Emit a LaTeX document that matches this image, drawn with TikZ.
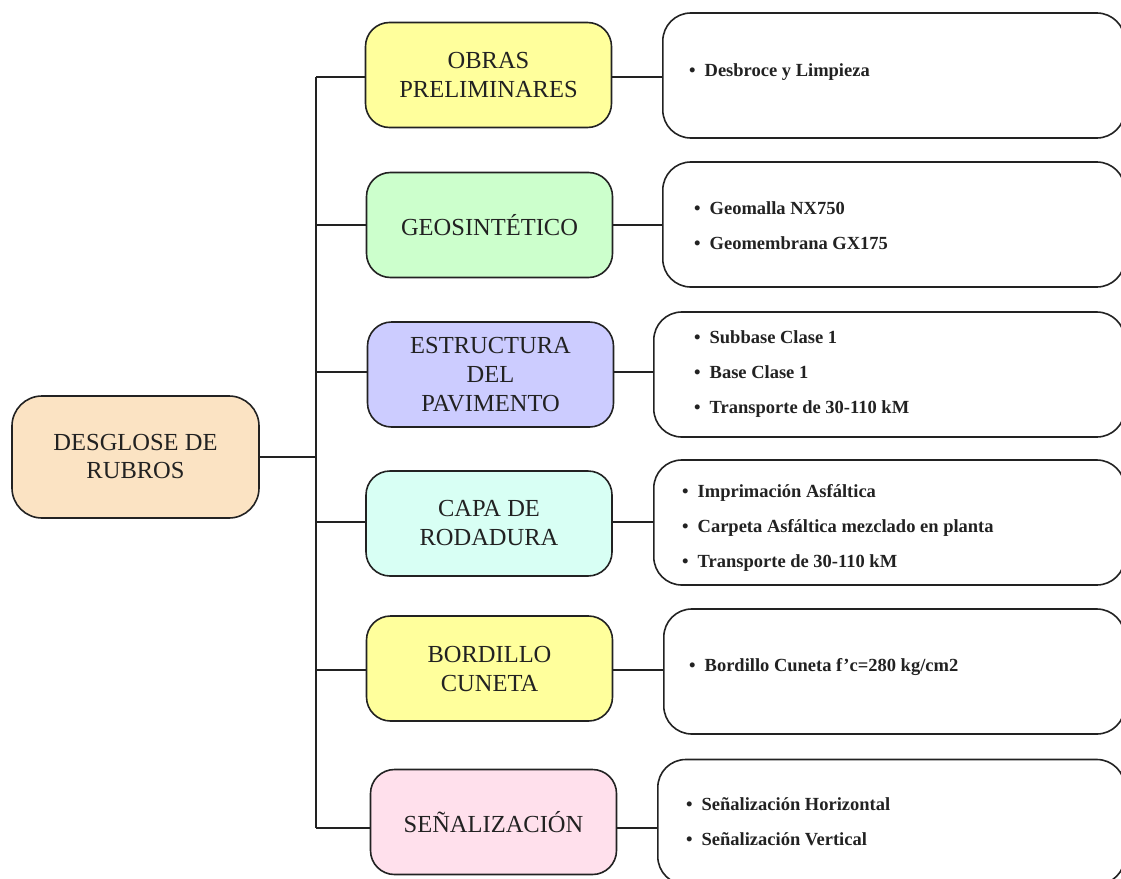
\documentclass[tikz,border=0pt]{standalone}
\usepackage{fontspec}
\setmainfont{Liberation Serif}
\definecolor{cRoot}{HTML}{FBE3C3}
\definecolor{cYel}{HTML}{FFFF9C}
\definecolor{cGreen}{HTML}{CCFFCC}
\definecolor{cLav}{HTML}{CCCCFF}
\definecolor{cCyan}{HTML}{D8FFF4}
\definecolor{cPink}{HTML}{FFE0EC}
\definecolor{ink}{HTML}{222222}
\begin{document}
\begin{tikzpicture}[x=1pt,y=-1pt,
  boxline/.style={draw=ink, line width=1.6pt},
  rootbox/.style={boxline, rounded corners=30pt, minimum width=247pt, minimum height=122pt,
    align=center, text=ink, font=\fontsize{24.5}{28}\selectfont},
  midbox/.style={boxline, rounded corners=24pt, minimum width=246pt, minimum height=105pt,
    align=center, text=ink, font=\fontsize{24.5}{29}\selectfont},
  listbox/.style={boxline, rounded corners=28pt, minimum height=125pt, anchor=west, fill=white},
  listtext/.style={anchor=west, inner sep=0pt, align=left, text=ink, font=\bfseries\fontsize{18.5}{35}\selectfont},
  conn/.style={draw=ink, line width=1.6pt}
]
\useasboundingbox (0,0) rectangle (1121,878);
\fill[white] (0,0) rectangle (1121,878);

% root
\node[rootbox, fill=cRoot] (root) at (135.5,457) {DESGLOSE DE\\RUBROS};

% middle boxes
\node[midbox, fill=cYel]   (m1) at (488.5,75)  {OBRAS\\PRELIMINARES};
\node[midbox, fill=cGreen] (m2) at (489.5,225) {GEOSINTÉTICO};
\node[midbox, fill=cLav]   (m3) at (490.5,374.5) {ESTRUCTURA\\DEL\\PAVIMENTO};
\node[midbox, fill=cCyan]  (m4) at (489,523.5) {CAPA DE\\RODADURA};
\node[midbox, fill=cYel]   (m5) at (489.5,668.5) {BORDILLO\\CUNETA};
\node[midbox, fill=cPink]  (m6) at (493.5,822) {SEÑALIZACIÓN};

% right boxes
\node[listbox, minimum width=462pt] (r1) at (662,75.5)  {};
\node[listbox, minimum width=462pt] (r2) at (662,224.5) {};
\node[listbox, minimum width=471pt] (r3) at (653,374.5) {};
\node[listbox, minimum width=471pt] (r4) at (653,522.5) {};
\node[listbox, minimum width=461pt] (r5) at (663,671.5) {};
\node[listbox, minimum width=467pt] (r6) at (657,822)   {};

\node[listtext] (t1) at (689,72)   {•\hspace{9pt}Desbroce y Limpieza};
\node[listtext] (t2) at (694,225.5) {•\hspace{9pt}Geomalla NX750\\•\hspace{9pt}Geomembrana GX175};
\node[listtext] (t3) at (694,374)  {•\hspace{9pt}Subbase Clase 1\\•\hspace{9pt}Base Clase 1\\•\hspace{9pt}Transporte de 30-110 kM};
\node[listtext] (t4) at (682,527.5) {•\hspace{9pt}Imprimación Asfáltica\\•\hspace{9pt}Carpeta Asfáltica mezclado en planta\\•\hspace{9pt}Transporte de 30-110 kM};
\node[listtext] (t5) at (689,667)  {•\hspace{9pt}Bordillo Cuneta f'c=280 kg/cm2};
\node[listtext] (t6) at (686,821.5) {•\hspace{9pt}Señalización Horizontal\\•\hspace{9pt}Señalización Vertical};

% spine
\coordinate (s1) at (316,77);
\coordinate (s6) at (316,828);
\coordinate (sr) at (316,457);
\draw[conn] (s1) -- (s6);
\draw[conn] (root.east) -- (sr);
\foreach \i/\y in {1/77,2/225,3/372,4/522,5/670,6/828}{
  \coordinate (c\i) at (316,\y);
  \draw[conn] (c\i) -- (c\i -| m\i.west);
  \draw[conn] (c\i -| m\i.east) -- (c\i -| r\i.west);
}
\end{tikzpicture}
\end{document}
